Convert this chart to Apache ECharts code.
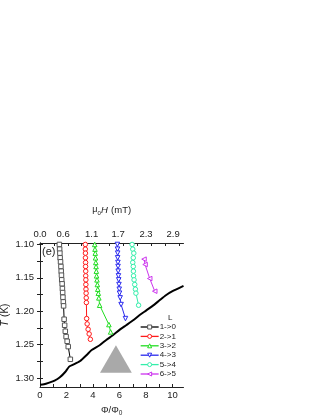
<!DOCTYPE html>
<html>
<head>
<meta charset="utf-8">
<script src="https://cdn.jsdelivr.net/npm/echarts@6/dist/echarts.min.js"></script>
<style>
  html, body { margin: 0; padding: 0; background: #fff; }
  #chart { width: 322px; height: 416px; }
</style>
</head>
<body>
<div id="chart"></div>
<script>
// 各跃迁 L -> L-1 的测量点 (Φ/Φ0, T)
const phi10 = [1.46, 1.48, 1.50, 1.52, 1.55, 1.58, 1.60, 1.62, 1.64, 1.67, 1.69, 1.71, 1.73, 1.76, 1.78, 1.82, 1.86, 1.91, 1.97, 2.05, 2.13, 2.29];
const temp10 = [1.100, 1.107, 1.113, 1.120, 1.126, 1.133, 1.140, 1.146, 1.153, 1.159, 1.166, 1.172, 1.179, 1.186, 1.192, 1.212, 1.221, 1.230, 1.238, 1.245, 1.253, 1.272];

const phi21 = [3.42, 3.42, 3.43, 3.43, 3.44, 3.44, 3.45, 3.45, 3.46, 3.46, 3.47, 3.48, 3.49, 3.50, 3.52, 3.56, 3.63, 3.71, 3.80];
const temp21 = [1.100, 1.107, 1.113, 1.120, 1.127, 1.133, 1.140, 1.147, 1.153, 1.160, 1.167, 1.173, 1.180, 1.187, 1.211, 1.219, 1.227, 1.234, 1.242];

const phi32 = [4.13, 4.15, 4.17, 4.19, 4.21, 4.23, 4.25, 4.27, 4.30, 4.33, 4.36, 4.40, 4.44, 4.50, 5.20, 5.33];
const temp32 = [1.100, 1.107, 1.113, 1.120, 1.127, 1.133, 1.140, 1.147, 1.153, 1.160, 1.167, 1.173, 1.180, 1.191, 1.220, 1.231];

const phi43 = [5.84, 5.85, 5.86, 5.86, 5.88, 5.89, 5.90, 5.92, 5.94, 5.96, 5.98, 6.00, 6.05, 6.12, 6.45];
const temp43 = [1.100, 1.107, 1.113, 1.120, 1.127, 1.133, 1.140, 1.147, 1.153, 1.160, 1.167, 1.173, 1.180, 1.190, 1.211];

const phi54 = [6.95, 7.00, 7.08, 7.04, 7.00, 7.04, 7.05, 7.06, 7.10, 7.15, 7.20, 7.24, 7.44];
const temp54 = [1.100, 1.107, 1.113, 1.120, 1.127, 1.133, 1.140, 1.147, 1.153, 1.160, 1.167, 1.173, 1.191];

const phi65 = [7.85, 7.93, 8.28, 8.66];
const temp65 = [1.122, 1.130, 1.151, 1.170];

// 相边界线
const phiLine = [0, 0.3, 0.7, 1.1, 1.5, 1.9, 2.2, 2.5, 3.0, 3.5, 3.9, 4.5, 5.0, 5.5, 6.0, 6.5, 7.0, 7.5, 8.0, 8.5, 9.0, 9.5, 10.0, 10.83];
const tempLine = [1.310, 1.3095, 1.307, 1.304, 1.299, 1.291, 1.283, 1.280, 1.275, 1.266, 1.258, 1.251, 1.243, 1.236, 1.228, 1.221, 1.214, 1.206, 1.199, 1.192, 1.184, 1.176, 1.170, 1.162];

// 灰色三角形
const triPhi = [4.53, 5.73, 6.93];
const triTemp = [1.292, 1.251, 1.292];

// 刻度
const phiLabelValues = [0, 2, 4, 6, 8, 10];
const phiTickValues = [0, 1, 2, 3, 4, 5, 6, 7, 8, 9, 10];
const muLabelPos = [0, 1.75, 3.9, 5.9, 8.0, 10.05];
const muLabels = ['0.0', '0.6', '1.1', '1.7', '2.3', '2.9'];
const muTickPos = [1.05, 2.1, 3.15, 4.2, 5.25, 6.3, 7.35, 8.4, 9.45, 10.5];
const tempLabelValues = [1.10, 1.15, 1.20, 1.25, 1.30];
const tempTickValues = [1.100, 1.125, 1.150, 1.175, 1.200, 1.225, 1.250, 1.275, 1.300];

const zip = (xs, ys) => xs.map((x, i) => [x, ys[i]]);
const font = 'Liberation Sans, Arial, sans-serif';
const axisColor = '#222';

function pointSeries(name, xs, ys, color, symbol, rotate, border) {
  return {
    name: name,
    type: 'line',
    data: zip(xs, ys),
    symbol: symbol,
    symbolSize: 4.5,
    symbolRotate: rotate || 0,
    showAllSymbol: true,
    lineStyle: { color: color, width: 1 },
    itemStyle: { color: '#fff', borderColor: border || color, borderWidth: 1 },
    emphasis: { disabled: true },
    z: 3
  };
}

const xBase = {
  type: 'value',
  min: 0,
  max: 10.83,
  axisLine: { lineStyle: { color: axisColor, width: 1 } },
  splitLine: { show: false }
};
const yBase = {
  type: 'value',
  min: 1.0978,
  max: 1.3135,
  inverse: true,
  axisLine: { show: true, lineStyle: { color: axisColor, width: 1 } },
  splitLine: { show: false }
};

const chart = echarts.init(document.getElementById('chart'));

const option = {
  animation: false,
  backgroundColor: '#ffffff',
  textStyle: { fontFamily: font },
  grid: { left: 40, top: 243, right: 138.5, bottom: 29, outerBoundsMode: 'none' },
  xAxis: [
    Object.assign({}, xBase, {
      position: 'bottom',
      name: '{a|Φ/Φ}{s|0}',
      nameLocation: 'middle',
      nameGap: 17,
      nameTextStyle: {
        rich: {
          a: { fontSize: 9.5, color: axisColor, fontFamily: font },
          s: { fontSize: 6.5, color: axisColor, fontFamily: font, padding: [6, 0, 0, 0] }
        }
      },
      axisTick: { inside: true, length: 3, customValues: phiTickValues, lineStyle: { color: axisColor } },
      axisLabel: { customValues: phiLabelValues, margin: 3, fontSize: 9.5, color: axisColor, fontFamily: font }
    }),
    Object.assign({}, xBase, {
      position: 'top',
      name: '{m|μ}{s|0}{h|H} {a|(mT)}',
      nameLocation: 'middle',
      nameGap: 27,
      nameTextStyle: {
        rich: {
          m: { fontSize: 9, color: axisColor, fontFamily: font },
          s: { fontSize: 6, color: axisColor, fontFamily: font, padding: [6, 0, 0, 0] },
          h: { fontSize: 9.5, color: axisColor, fontFamily: font, fontStyle: 'italic' },
          a: { fontSize: 9.5, color: axisColor, fontFamily: font }
        }
      },
      axisTick: { inside: true, length: 3, customValues: muTickPos, lineStyle: { color: axisColor } },
      axisLabel: {
        customValues: muLabelPos,
        margin: 4,
        fontSize: 9.5,
        color: axisColor,
        fontFamily: font,
        formatter: function (v) {
          const i = muLabelPos.findIndex(p => Math.abs(p - v) < 1e-6);
          return i >= 0 ? muLabels[i] : '';
        }
      }
    })
  ],
  yAxis: [
    Object.assign({}, yBase, {
      position: 'left',
      name: '{i|T} {a|(K)}',
      nameLocation: 'middle',
      nameRotate: 90,
      nameGap: 24,
      nameTextStyle: {
        rich: {
          i: { fontSize: 10, color: axisColor, fontFamily: font, fontStyle: 'italic' },
          a: { fontSize: 10, color: axisColor, fontFamily: font }
        }
      },
      axisTick: { inside: true, length: 3, customValues: tempTickValues, lineStyle: { color: axisColor } },
      axisLabel: {
        customValues: tempLabelValues,
        margin: 6,
        fontSize: 9.5,
        color: axisColor,
        fontFamily: font,
        formatter: function (v) { return v.toFixed(2); }
      }
    }),
    Object.assign({}, yBase, {
      position: 'right',
      axisTick: { inside: true, length: 3, customValues: tempTickValues, lineStyle: { color: axisColor } },
      axisLabel: { show: false }
    })
  ],
  legend: {
    orient: 'vertical',
    left: 140,
    top: 323,
    itemWidth: 18,
    itemHeight: 5,
    itemGap: 1.4,
    padding: 0,
    data: ['1->0', '2->1', '3->2', '4->3', '5->4', '6->5'],
    itemStyle: { borderWidth: 1 },
    lineStyle: { width: 1.3 },
    textStyle: { fontSize: 8, lineHeight: 5, color: axisColor, fontFamily: font, padding: [0, 0, 0, -4] }
  },
  graphic: [
    { type: 'text', left: 42, top: 246, style: { text: '(e)', fontSize: 11, fill: axisColor, fontFamily: font } },
    { type: 'text', left: 168, top: 314, style: { text: 'L', fontSize: 8, fill: axisColor, fontFamily: font } }
  ],
  series: [
    {
      name: 'triangle',
      type: 'custom',
      data: [[0]],
      silent: true,
      z: 1,
      renderItem: function (params, api) {
        const pts = triPhi.map((x, i) => api.coord([x, triTemp[i]]));
        return { type: 'polygon', shape: { points: pts }, style: { fill: '#a9a9a9' } };
      }
    },
    {
      name: 'boundary',
      type: 'line',
      data: zip(phiLine, tempLine),
      symbol: 'none',
      smooth: 0.2,
      lineStyle: { color: '#000', width: 2 },
      emphasis: { disabled: true },
      z: 2
    },
    pointSeries('1->0', phi10, temp10, '#000000', 'rect', 0, '#555'),
    pointSeries('2->1', phi21, temp21, '#ff1a1a', 'circle'),
    pointSeries('3->2', phi32, temp32, '#22dd22', 'triangle'),
    pointSeries('4->3', phi43, temp43, '#2a2aee', 'triangle', 180),
    pointSeries('5->4', phi54, temp54, '#33eeaa', 'circle'),
    pointSeries('6->5', phi65, temp65, '#cc33ee', 'triangle', 90)
  ]
};

chart.setOption(option);
</script>
</body>
</html>
